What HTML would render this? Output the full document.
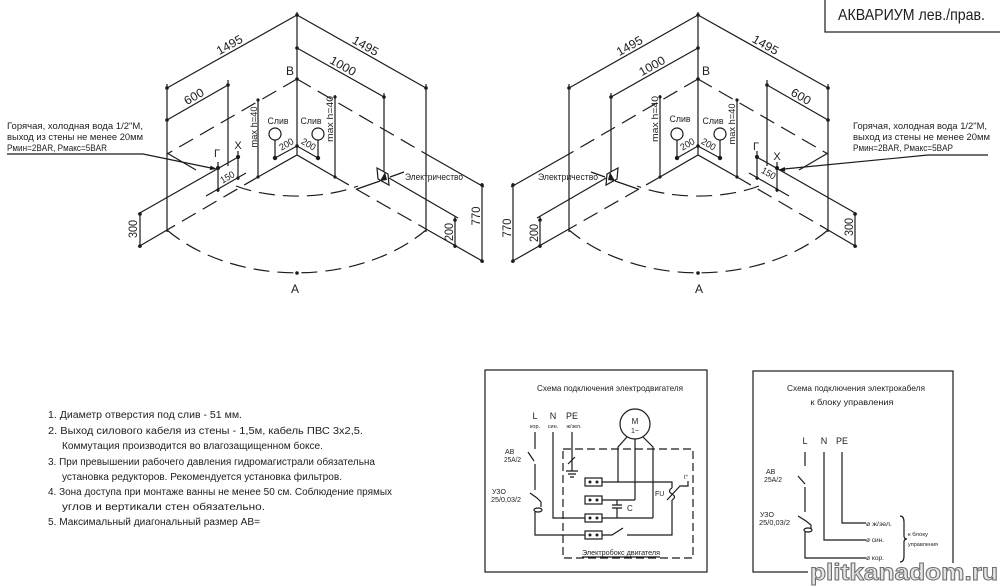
<!DOCTYPE html>
<html><head><meta charset="utf-8"><style>
html,body{margin:0;padding:0;background:#fff;overflow:hidden}
svg{display:block}
text{font-family:"Liberation Sans","DejaVu Sans",sans-serif;fill:#1e1e1e}
.s{fill:none;stroke:#1b1b1b;stroke-width:1.2}
.d{fill:none;stroke:#1b1b1b;stroke-width:1.2;stroke-dasharray:16 8}
.c{fill:none;stroke:#1b1b1b;stroke-width:1.2}
.f{fill:#1b1b1b}
</style></head><body>
<svg width="1000" height="587" viewBox="0 0 1000 587" xmlns="http://www.w3.org/2000/svg">
<rect width="1000" height="587" fill="#fff"/>

<!-- LEFT DRAWING GEOMETRY -->
<g>
<path class="s" d="M297,12V155 M297,15L167,88 M297,15L426,88 M167,84V232 M426,84V232 M297,48L384,97 M384,93V172 M167,120L228,85 M228,80V166 M426,154L484,187 M482,183V263 M484,262L426,229 M455,216V248 M389,178L458,218 M140,212V248 M138,214L240,156 M138,247L167,230 M167,153L196,170 M258,100V177 M258,177L297,155L335,177 M335,95V177 M275,140V158 M318,140V158 M275,158L297,146L318,158 M218,162V192 M238,151V180 M206,196L246,173 M377,168L388,174L389,185L378,179Z M390,177L404,172 M380,181L357,189"/>
<path class="d" d="M297,79L167,154 M297,79L426,154 M258,177L167,230 M335,177L426,229 M167,230A168,118 0 0 0 426,230 M236,186A93,41 0 0 0 358,186"/>
<circle class="c" cx="275" cy="134" r="6"/><circle class="c" cx="318" cy="134" r="6"/>
<path class="f" d="M380,181L387,180L385,172Z"/>
<g class="f">
<circle cx="297" cy="15" r="1.8"/><circle cx="167" cy="88" r="1.8"/><circle cx="426" cy="88" r="1.8"/>
<circle cx="297" cy="48" r="1.8"/><circle cx="384" cy="97" r="1.8"/><circle cx="167" cy="120" r="1.8"/>
<circle cx="228" cy="85" r="1.8"/><circle cx="297" cy="79" r="1.8"/><circle cx="297" cy="146" r="1.8"/>
<circle cx="275" cy="158" r="2.2"/><circle cx="318" cy="158" r="2.2"/><circle cx="218" cy="168" r="2"/>
<circle cx="238" cy="157" r="2"/><circle cx="482" cy="185" r="1.8"/><circle cx="482" cy="261" r="1.8"/>
<circle cx="455" cy="220" r="1.8"/><circle cx="455" cy="246" r="1.8"/><circle cx="140" cy="214" r="1.8"/>
<circle cx="140" cy="246" r="1.8"/><circle cx="297" cy="273" r="1.8"/><circle cx="258" cy="100" r="1.6"/>
<circle cx="258" cy="177" r="1.6"/><circle cx="335" cy="97" r="1.6"/><circle cx="335" cy="177" r="1.6"/>
<circle cx="218" cy="190" r="1.6"/><circle cx="238" cy="178" r="1.6"/>
</g>
</g>

<!-- RIGHT DRAWING GEOMETRY (mirrored) -->
<g transform="translate(995,0) scale(-1,1)">
<path class="s" d="M297,12V155 M297,15L167,88 M297,15L426,88 M167,84V232 M426,84V232 M297,48L384,97 M384,93V172 M167,120L228,85 M228,80V166 M426,154L484,187 M482,183V263 M484,262L426,229 M455,216V248 M389,178L458,218 M140,212V248 M138,214L240,156 M138,247L167,230 M167,153L196,170 M258,100V177 M258,177L297,155L335,177 M335,95V177 M275,140V158 M318,140V158 M275,158L297,146L318,158 M218,162V192 M238,151V180 M206,196L246,173 M377,168L388,174L389,185L378,179Z M390,177L404,172 M380,181L357,189"/>
<path class="d" d="M297,79L167,154 M297,79L426,154 M258,177L167,230 M335,177L426,229 M167,230A168,118 0 0 0 426,230 M236,186A93,41 0 0 0 358,186"/>
<circle class="c" cx="275" cy="134" r="6"/><circle class="c" cx="318" cy="134" r="6"/>
<path class="f" d="M380,181L387,180L385,172Z"/>
<g class="f">
<circle cx="297" cy="15" r="1.8"/><circle cx="167" cy="88" r="1.8"/><circle cx="426" cy="88" r="1.8"/>
<circle cx="297" cy="48" r="1.8"/><circle cx="384" cy="97" r="1.8"/><circle cx="167" cy="120" r="1.8"/>
<circle cx="228" cy="85" r="1.8"/><circle cx="297" cy="79" r="1.8"/><circle cx="297" cy="146" r="1.8"/>
<circle cx="275" cy="158" r="2.2"/><circle cx="318" cy="158" r="2.2"/><circle cx="218" cy="168" r="2"/>
<circle cx="238" cy="157" r="2"/><circle cx="482" cy="185" r="1.8"/><circle cx="482" cy="261" r="1.8"/>
<circle cx="455" cy="220" r="1.8"/><circle cx="455" cy="246" r="1.8"/><circle cx="140" cy="214" r="1.8"/>
<circle cx="140" cy="246" r="1.8"/><circle cx="297" cy="273" r="1.8"/><circle cx="258" cy="100" r="1.6"/>
<circle cx="258" cy="177" r="1.6"/><circle cx="335" cy="97" r="1.6"/><circle cx="335" cy="177" r="1.6"/>
<circle cx="218" cy="190" r="1.6"/><circle cx="238" cy="178" r="1.6"/>
</g>
</g>

<!-- Leaders -->
<path class="s" d="M7,154H143L211,168"/>
<path class="f" d="M217,169L209.7,170L210.5,165.6Z"/>
<path class="s" d="M988,155H928L784,169"/>
<path class="f" d="M778,170L785.2,171.6L784.8,167Z"/>

<!-- LEFT DRAWING TEXT -->
<g font-size="9.5">
<text x="7" y="129" textLength="136" lengthAdjust="spacingAndGlyphs">Горячая, холодная вода 1/2&quot;М,</text>
<text x="7" y="140" textLength="136" lengthAdjust="spacingAndGlyphs">выход из стены не менее 20мм</text>
<text x="7" y="151" textLength="100" lengthAdjust="spacingAndGlyphs">Pмин=2BAR, Pмакс=5BAR</text>
<text x="853" y="129" textLength="134" lengthAdjust="spacingAndGlyphs">Горячая, холодная вода 1/2&quot;М,</text>
<text x="853" y="140" textLength="137" lengthAdjust="spacingAndGlyphs">выход из стены не менее 20мм</text>
<text x="853" y="151" textLength="100" lengthAdjust="spacingAndGlyphs">Pмин=2BAR, Pмакс=5BAP</text>
</g>
<g font-size="12" text-anchor="middle">
<text transform="translate(231.5,48.4) rotate(-29.3)" textLength="28" lengthAdjust="spacingAndGlyphs">1495</text>
<text transform="translate(363.5,49.4) rotate(29.3)" textLength="28" lengthAdjust="spacingAndGlyphs">1495</text>
<text transform="translate(341,69.5) rotate(29.4)" textLength="28" lengthAdjust="spacingAndGlyphs">1000</text>
<text transform="translate(196,100) rotate(-29.8)" textLength="21" lengthAdjust="spacingAndGlyphs">600</text>
<text transform="translate(480,216) rotate(-90)" textLength="19" lengthAdjust="spacingAndGlyphs">770</text>
<text transform="translate(453,232) rotate(-90)" textLength="18" lengthAdjust="spacingAndGlyphs">200</text>
<text transform="translate(137,229) rotate(-90)" textLength="18" lengthAdjust="spacingAndGlyphs">300</text>
<text x="290" y="75">B</text>
<text x="295" y="293">A</text>
<text x="217" y="157" font-size="11">Г</text>
<text x="238" y="149" font-size="11">X</text>

<text transform="translate(631.5,49.4) rotate(-29.3)" textLength="28" lengthAdjust="spacingAndGlyphs">1495</text>
<text transform="translate(763.5,48.4) rotate(29.3)" textLength="28" lengthAdjust="spacingAndGlyphs">1495</text>
<text transform="translate(654,69.5) rotate(-29.4)" textLength="28" lengthAdjust="spacingAndGlyphs">1000</text>
<text transform="translate(799,100) rotate(29.8)" textLength="21" lengthAdjust="spacingAndGlyphs">600</text>
<text transform="translate(511,228) rotate(-90)" textLength="19" lengthAdjust="spacingAndGlyphs">770</text>
<text transform="translate(538,233) rotate(-90)" textLength="18" lengthAdjust="spacingAndGlyphs">200</text>
<text transform="translate(853,227) rotate(-90)" textLength="18" lengthAdjust="spacingAndGlyphs">300</text>
<text x="706" y="75">B</text>
<text x="699" y="293">A</text>
<text x="756" y="150" font-size="11">Г</text>
<text x="777" y="160" font-size="11">X</text>
</g>
<g font-size="9.5" text-anchor="middle">
<text x="278" y="124" textLength="21" lengthAdjust="spacingAndGlyphs">Слив</text>
<text x="311" y="124" textLength="21" lengthAdjust="spacingAndGlyphs">Слив</text>
<text transform="translate(257,127) rotate(-90)" textLength="41" lengthAdjust="spacingAndGlyphs">max h=40</text>
<text transform="translate(333,119) rotate(-90)" textLength="46" lengthAdjust="spacingAndGlyphs">max h=40</text>
<text transform="translate(288,147) rotate(-30)" textLength="15" lengthAdjust="spacingAndGlyphs">200</text>
<text transform="translate(307,147) rotate(30)" textLength="15" lengthAdjust="spacingAndGlyphs">200</text>
<text transform="translate(229,180) rotate(-30)" textLength="15" lengthAdjust="spacingAndGlyphs">150</text>
<text x="434" y="180" textLength="58" lengthAdjust="spacingAndGlyphs">Электричество</text>

<text x="680" y="122" textLength="21" lengthAdjust="spacingAndGlyphs">Слив</text>
<text x="713" y="124" textLength="21" lengthAdjust="spacingAndGlyphs">Слив</text>
<text transform="translate(658,119) rotate(-90)" textLength="46" lengthAdjust="spacingAndGlyphs">max h=40</text>
<text transform="translate(735,124) rotate(-90)" textLength="41" lengthAdjust="spacingAndGlyphs">max h=40</text>
<text transform="translate(689,147) rotate(-30)" textLength="15" lengthAdjust="spacingAndGlyphs">200</text>
<text transform="translate(707,147) rotate(30)" textLength="15" lengthAdjust="spacingAndGlyphs">200</text>
<text transform="translate(767,176) rotate(30)" textLength="15" lengthAdjust="spacingAndGlyphs">150</text>
<text x="568" y="180" textLength="60" lengthAdjust="spacingAndGlyphs">Электричество</text>
</g>

<!-- Title box -->
<rect class="s" x="825" y="-2" width="180" height="34"/>
<text x="838" y="20" font-size="16" textLength="147" lengthAdjust="spacingAndGlyphs">АКВАРИУМ лев./прав.</text>

<!-- Notes -->
<g font-size="10">
<text x="48" y="418" textLength="194" lengthAdjust="spacingAndGlyphs">1. Диаметр отверстия под слив - 51 мм.</text>
<text x="48" y="434" textLength="315" lengthAdjust="spacingAndGlyphs">2. Выход силового кабеля из стены - 1,5м, кабель ПВС 3х2,5.</text>
<text x="62" y="449" textLength="261" lengthAdjust="spacingAndGlyphs">Коммутация производится во влагозащищенном боксе.</text>
<text x="48" y="465" textLength="327" lengthAdjust="spacingAndGlyphs">3. При превышении рабочего давления гидромагистрали обязательна</text>
<text x="62" y="480" textLength="280" lengthAdjust="spacingAndGlyphs">установка редукторов. Рекомендуется установка фильтров.</text>
<text x="48" y="495" textLength="344" lengthAdjust="spacingAndGlyphs">4. Зона доступа при монтаже ванны не менее 50 см. Соблюдение прямых</text>
<text x="62" y="510" textLength="203" lengthAdjust="spacingAndGlyphs">углов и вертикали стен обязательно.</text>
<text x="48" y="525" textLength="212" lengthAdjust="spacingAndGlyphs">5. Максимальный диагональный размер АВ=</text>
</g>

<!-- Left wiring diagram -->
<rect class="s" x="485" y="370" width="222" height="202"/>
<rect class="s" x="563" y="449" width="130" height="109" stroke-dasharray="8 4"/>
<text x="610" y="391" font-size="8.5" text-anchor="middle" textLength="146" lengthAdjust="spacingAndGlyphs">Схема подключения электродвигателя</text>
<g font-size="9" text-anchor="middle"><text x="535" y="419">L</text><text x="553" y="419">N</text><text x="572" y="419">PE</text></g>
<g font-size="5.5" text-anchor="middle"><text x="535" y="428">кор.</text><text x="553" y="428">син.</text><text x="574" y="428">ж/зел.</text></g>
<path class="s" d="M535,432V449 M528,452L534,461 M535,464V490 M530,493L537,498L541,502V507 M535,512V535H585 M553,432V518H585 M572,432V471 M566,471H578 M568,474H576 M570,477H574 M568,464L575,457"/>
<ellipse class="c" cx="538" cy="510" rx="4" ry="2"/>
<g class="c">
<rect x="585" y="478" width="17" height="8"/><rect x="585" y="496" width="17" height="8"/>
<rect x="585" y="514" width="17" height="8"/><rect x="585" y="531" width="17" height="8"/>
</g>
<g class="f">
<circle cx="590" cy="482" r="1.5"/><circle cx="597" cy="482" r="1.5"/>
<circle cx="590" cy="500" r="1.5"/><circle cx="597" cy="500" r="1.5"/>
<circle cx="590" cy="518" r="1.5"/><circle cx="597" cy="518" r="1.5"/>
<circle cx="590" cy="535" r="1.5"/><circle cx="597" cy="535" r="1.5"/>
</g>
<circle class="c" cx="635" cy="424" r="15"/>
<text x="635" y="424" font-size="8" text-anchor="middle">M</text>
<text x="635" y="433" font-size="7" text-anchor="middle">1~</text>
<path class="s" d="M627,437L618,447V482 M635,439V500 M643,437L653,447V518 M602,482H672V488 M672,488Q667,491 672,494Q677,497 672,500 M667,500L680,486H688V481 M672,500V535H627 M602,535H612L623,528 M602,500H635 M602,518H653 M617,500V505 M612,505H622 M612,508H622 M617,508V518"/>
<text x="655" y="496" font-size="7">FU</text>
<text x="684" y="479" font-size="6">t°</text>
<text x="627" y="511" font-size="8">C</text>
<text x="582" y="555" font-size="7" textLength="78" lengthAdjust="spacingAndGlyphs">Электробокс двигателя</text>
<path class="s" d="M582,557H660" stroke-width="0.8"/>
<text x="505" y="454" font-size="7">AB</text>
<text x="504" y="462" font-size="7" textLength="17" lengthAdjust="spacingAndGlyphs">25A/2</text>
<text x="492" y="494" font-size="7">УЗО</text>
<text x="491" y="502" font-size="7" textLength="30" lengthAdjust="spacingAndGlyphs">25/0,03/2</text>

<!-- Right wiring diagram -->
<rect class="s" x="753" y="371" width="200" height="201"/>
<text x="856" y="391" font-size="8.5" text-anchor="middle" textLength="138" lengthAdjust="spacingAndGlyphs">Схема подключения электрокабеля</text>
<text x="852" y="405" font-size="8.5" text-anchor="middle" textLength="83" lengthAdjust="spacingAndGlyphs">к блоку управления</text>
<g font-size="9" text-anchor="middle"><text x="805" y="444">L</text><text x="824" y="444">N</text><text x="842" y="444">PE</text></g>
<path class="s" d="M805,452V466 M798,476L805,484 M805,487V512 M798,516L806,521L811,525V529 M805,532V558H866 M824,452V540H866 M842,452V523H866 M900,516Q904,516 904,522V536Q904,539 907,539Q904,539 904,542V556Q904,562 900,562"/>
<ellipse class="c" cx="808" cy="530" rx="4" ry="2"/>
<g font-size="6">
<text x="866" y="526" textLength="26" lengthAdjust="spacingAndGlyphs">ø ж/зел.</text>
<text x="866" y="542" textLength="18" lengthAdjust="spacingAndGlyphs">ø син.</text>
<text x="866" y="560" textLength="18" lengthAdjust="spacingAndGlyphs">ø кор.</text>
<text x="908" y="536" font-size="5.5" textLength="20" lengthAdjust="spacingAndGlyphs">к блоку</text>
<text x="908" y="546" font-size="5.5" textLength="30" lengthAdjust="spacingAndGlyphs">управления</text>
</g>
<text x="766" y="474" font-size="7">AB</text>
<text x="764" y="482" font-size="7" textLength="18" lengthAdjust="spacingAndGlyphs">25A/2</text>
<text x="760" y="517" font-size="7">УЗО</text>
<text x="759" y="525" font-size="7" textLength="31" lengthAdjust="spacingAndGlyphs">25/0,03/2</text>

<!-- Watermark -->
<rect x="808" y="563" width="192" height="24" fill="#fff"/>
<text x="810" y="580" font-size="23" font-weight="bold" textLength="188" lengthAdjust="spacingAndGlyphs" style="fill:#e6e6e6;stroke:#6e6e6e;stroke-width:1">plitkanadom.ru</text>
</svg>
</body></html>
